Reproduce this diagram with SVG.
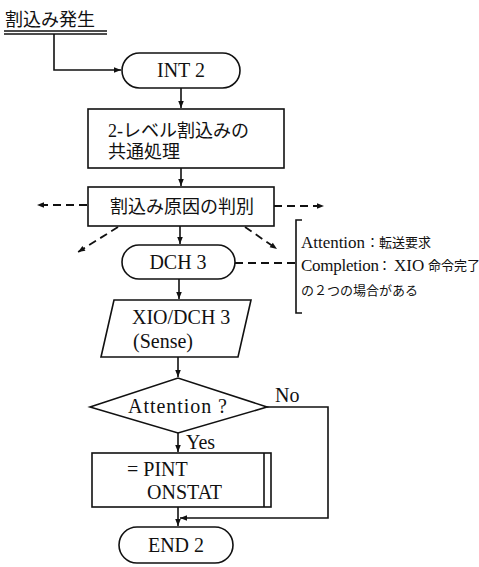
<svg xmlns="http://www.w3.org/2000/svg" width="479" height="567" viewBox="0 0 479 567" font-family="'Liberation Serif', 'Noto Sans CJK JP', serif">
  <style>
    .ln { fill: none; stroke: #111; stroke-width: 1.6; }
    .dash { fill: none; stroke: #111; stroke-width: 1.8; stroke-dasharray: 8 5; }
    .shape { fill: #fff; stroke: #111; stroke-width: 1.6; }
    .t { fill: #111; font-size: 20px; }
    .j { fill: #111; font-size: 18px; }
    .n { fill: #111; font-size: 17px; }
    .nj { fill: #111; font-size: 13px; }
  </style>
  <defs>
    <marker id="ah" viewBox="0 0 10 10" refX="10" refY="5" markerWidth="9" markerHeight="7" markerUnits="userSpaceOnUse" orient="auto">
      <path d="M0,1 L10,5 L0,9 Z" fill="#111"/>
    </marker>
  </defs>

  <!-- heading with double rule -->
  <g id="start">
    <text class="j" x="5" y="26" font-size="19.5">割込み発生</text>
    <line class="ln" x1="4" y1="31" x2="107" y2="31" stroke-width="1.3"/>
    <line class="ln" x1="4" y1="34" x2="107" y2="34" stroke-width="1.3"/>
  </g>

  <g id="int2">
    <rect class="shape" x="122" y="53" width="118" height="35" rx="17.5"/>
    <text class="t" x="181" y="77" text-anchor="middle">INT 2</text>
  </g>

  <g id="common">
    <rect class="shape" x="88" y="109" width="196" height="59"/>
    <text class="j" x="108" y="137" font-size="18.5">2-レベル割込みの</text>
    <text class="j" x="108" y="158" font-size="18.5">共通処理</text>
  </g>

  <g id="judge">
    <rect class="shape" x="88" y="187" width="186" height="39"/>
    <text class="j" x="110" y="213">割込み原因の判別</text>
  </g>

  <g id="dch3">
    <rect class="shape" x="122" y="245" width="113" height="34" rx="17"/>
    <text class="t" x="178" y="269" text-anchor="middle">DCH 3</text>
  </g>

  <g id="note">
    <path class="ln" d="M302,220 H296 V313 H302"/>
    <text class="n" x="301" y="248" textLength="64" lengthAdjust="spacing">Attention</text>
    <text class="nj" x="366" y="247">：転送要求</text>
    <text class="n" x="301" y="271" textLength="78" lengthAdjust="spacing">Completion</text>
    <text class="nj" x="378" y="270">：</text>
    <text class="n" x="394" y="271">XIO</text>
    <text class="nj" x="428" y="270" font-size="12.3">命令完了</text>
    <text class="nj" x="301" y="295" font-size="14">の２つの場合がある</text>
  </g>

  <g id="sense">
    <polygon class="shape" points="114,300 251,300 238,357 101,357"/>
    <text class="t" x="132" y="324">XIO/DCH 3</text>
    <text class="t" x="133" y="348">(Sense)</text>
  </g>

  <g id="decision">
    <polygon class="shape" points="90,407 178,378 267,407 178,433"/>
    <text class="t" x="128" y="413" textLength="99" lengthAdjust="spacing">Attention ?</text>
  </g>

  <g id="pint">
    <rect class="shape" x="92" y="453" width="179" height="54"/>
    <line class="ln" x1="264" y1="453" x2="264" y2="507"/>
    <text class="t" x="127" y="476">= PINT</text>
    <text class="t" x="147" y="499">ONSTAT</text>
  </g>

  <g id="end2">
    <rect class="shape" x="119" y="527" width="114" height="36" rx="18"/>
    <text class="t" x="176" y="552" text-anchor="middle">END 2</text>
  </g>

  <g id="connectors">
    <path class="ln" d="M54,34 V70 H121" marker-end="url(#ah)"/>
    <line class="ln" x1="181" y1="88" x2="181" y2="108" marker-end="url(#ah)"/>
    <line class="ln" x1="181" y1="168" x2="181" y2="186" marker-end="url(#ah)"/>
    <line class="ln" x1="180" y1="226" x2="180" y2="244" marker-end="url(#ah)"/>
    <line class="ln" x1="179" y1="279" x2="179" y2="299" marker-end="url(#ah)"/>
    <line class="ln" x1="178" y1="357" x2="178" y2="377" marker-end="url(#ah)"/>
    <line class="ln" x1="178" y1="433" x2="178" y2="452" marker-end="url(#ah)"/>
    <line class="ln" x1="178" y1="507" x2="178" y2="526" marker-end="url(#ah)"/>
    <path class="ln" d="M267,407 H328 V518 H180" marker-end="url(#ah)"/>
    <text class="t" x="275" y="402" font-size="18">No</text>
    <text class="t" x="186" y="449" font-size="19">Yes</text>

    <line class="dash" x1="87" y1="205" x2="37" y2="205" marker-end="url(#ah)"/>
    <line class="dash" x1="274" y1="206" x2="324" y2="206" marker-end="url(#ah)"/>
    <line class="dash" x1="118" y1="227" x2="78" y2="252" marker-end="url(#ah)"/>
    <line class="dash" x1="245" y1="227" x2="277" y2="249" marker-end="url(#ah)"/>
    <line class="dash" x1="235" y1="263" x2="296" y2="263"/>
  </g>
</svg>
